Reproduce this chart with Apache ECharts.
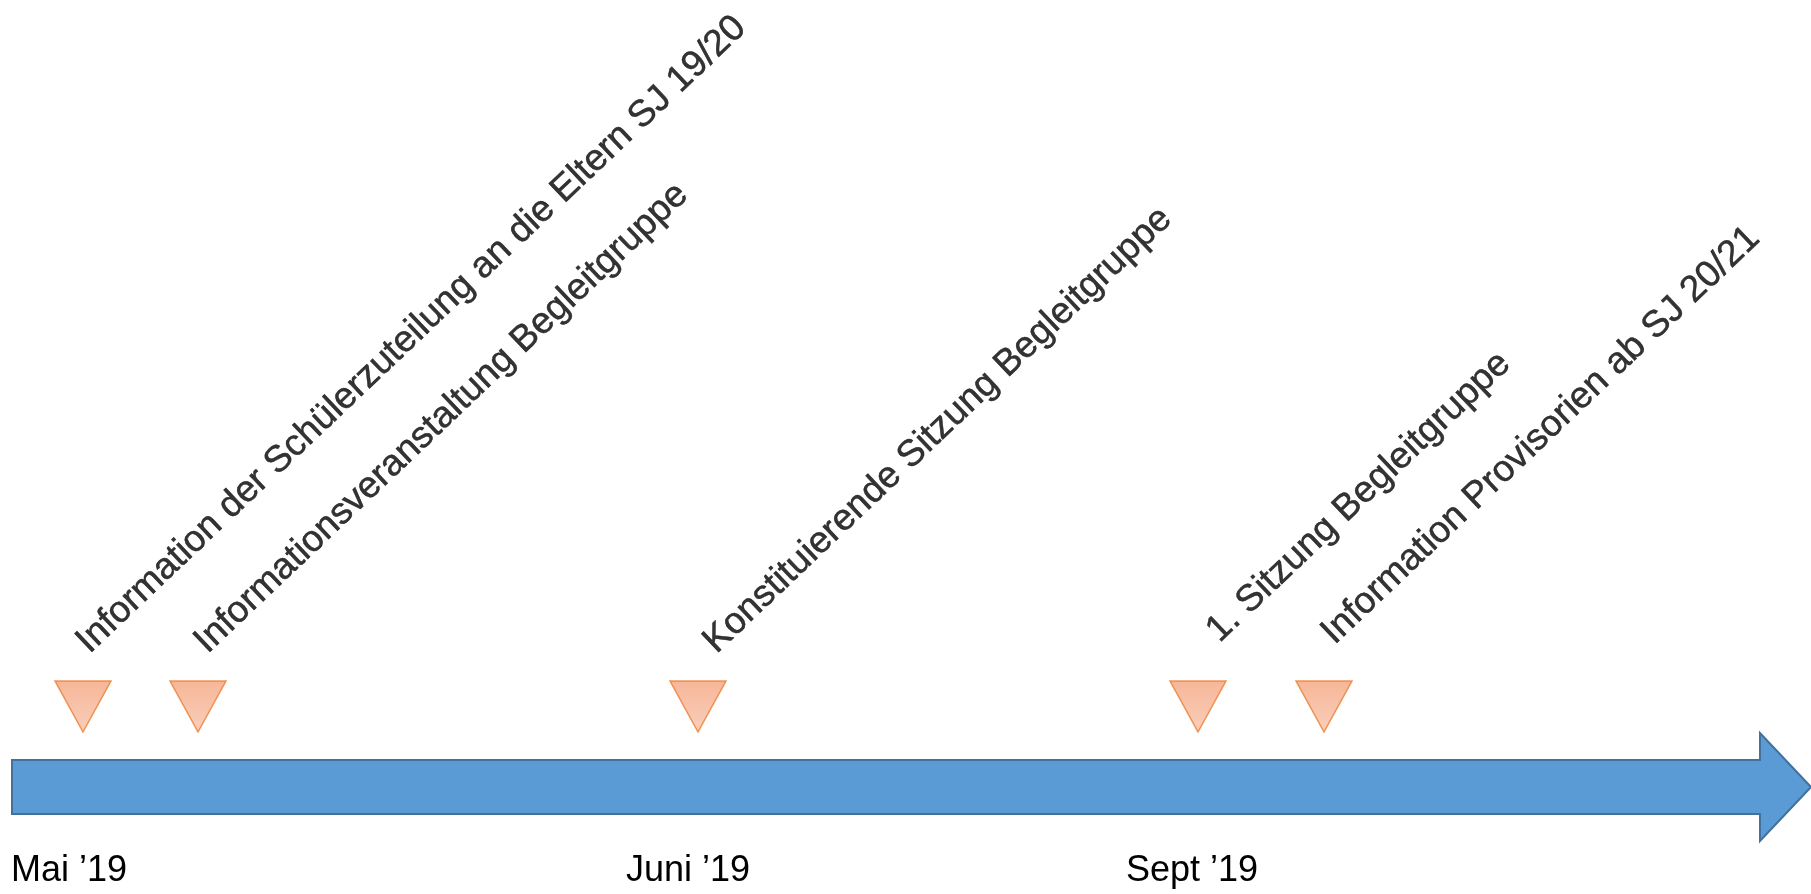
<!DOCTYPE html>
<html>
<head>
<meta charset="utf-8">
<script src="https://cdn.jsdelivr.net/npm/echarts@6/dist/echarts.min.js"></script>
<style>
html,body{margin:0;padding:0;background:#fff;}
#chart{width:1811px;height:894px;}
</style>
</head>
<body>
<div id="chart"></div>
<script>
// ---- data (timeline positions) ----
var eventNames = [
  'Information der Schülerzuteilung an die Eltern SJ 19/20',
  'Informationsveranstaltung Begleitgruppe',
  'Konstituierende Sitzung Begleitgruppe',
  '1. Sitzung Begleitgruppe',
  'Information Provisorien ab SJ 20/21'
];
var eventPositions = [83, 198, 698, 1198, 1324];
var tickLabels = ['Mai \u201919', 'Juni \u201919', 'Sept \u201919'];
var tickPositions = [11, 626, 1126];
var timelineStart = 12;
var timelineEnd = 1811;

// ---- layout constants ----
var AXIS_MAX = 1811;
var ARROW_LEVEL = 787;
var MARKER_LEVEL = 706.5;
var LABEL_BASE = [47, -20];
var LABEL_NUDGE = [[-6, 0], [-3, 0], [6, 0], [9, -11], [-2, -9]];
var FONT = '"Liberation Sans", Arial, sans-serif';

var chart = echarts.init(document.getElementById('chart'));

var markerData = eventPositions.map(function (x, i) {
  return {
    name: eventNames[i],
    value: [x, MARKER_LEVEL],
    label: { position: [LABEL_BASE[0] + LABEL_NUDGE[i][0], LABEL_BASE[1] + LABEL_NUDGE[i][1]] }
  };
});

chart.setOption({
  animation: false,
  backgroundColor: '#ffffff',
  grid: { left: 0, right: 0, top: 0, bottom: 54, containLabel: false },
  xAxis: {
    type: 'value', min: 0, max: AXIS_MAX,
    axisLine: { show: false }, axisTick: { show: false }, splitLine: { show: false },
    axisLabel: {
      customValues: tickPositions,
      formatter: function (v) {
        var i = tickPositions.indexOf(v);
        return i >= 0 ? tickLabels[i] : '';
      },
      align: 'left',
      verticalAlign: 'top',
      margin: 13,
      color: '#000000',
      fontFamily: FONT,
      fontSize: 36,
      lineHeight: 36
    }
  },
  yAxis: { type: 'value', min: 0, max: 840, inverse: true, show: false },
  series: [
    {
      type: 'custom',
      clip: false,
      silent: true,
      data: [[timelineStart, timelineEnd]],
      renderItem: function (params, api) {
        var p0 = api.coord([api.value(0), ARROW_LEVEL]);
        var p1 = api.coord([api.value(1), ARROW_LEVEL]);
        var yc = p0[1];
        var bh = 27, hh = 54, hl = 51;
        var xh = p1[0] - hl;
        return {
          type: 'polygon',
          shape: {
            points: [
              [p0[0], yc - bh], [xh, yc - bh], [xh, yc - hh], [p1[0], yc],
              [xh, yc + hh], [xh, yc + bh], [p0[0], yc + bh]
            ]
          },
          style: { fill: '#5B9BD5', stroke: '#41719C', lineWidth: 2 }
        };
      }
    },
    {
      type: 'scatter',
      symbol: 'path://M0,0 L56,0 L28,51 Z',
      symbolSize: [56, 51],
      itemStyle: {
        color: {
          type: 'linear', x: 0, y: 0, x2: 0, y2: 1,
          colorStops: [{ offset: 0, color: '#F4A47E' }, { offset: 1, color: '#F8C2A9' }]
        },
        borderColor: '#ED7D31',
        borderWidth: 1.5
      },
      label: {
        show: true,
        formatter: '{b}',
        position: LABEL_BASE,
        align: 'left',
        verticalAlign: 'bottom',
        rotate: 43.5,
        color: '#000000',
        textBorderColor: '#000000',
        textBorderWidth: 0.5,
        fontFamily: FONT,
        fontSize: 37,
        lineHeight: 37
      },
      emphasis: { disabled: true },
      data: markerData
    }
  ]
});
</script>
</body>
</html>
